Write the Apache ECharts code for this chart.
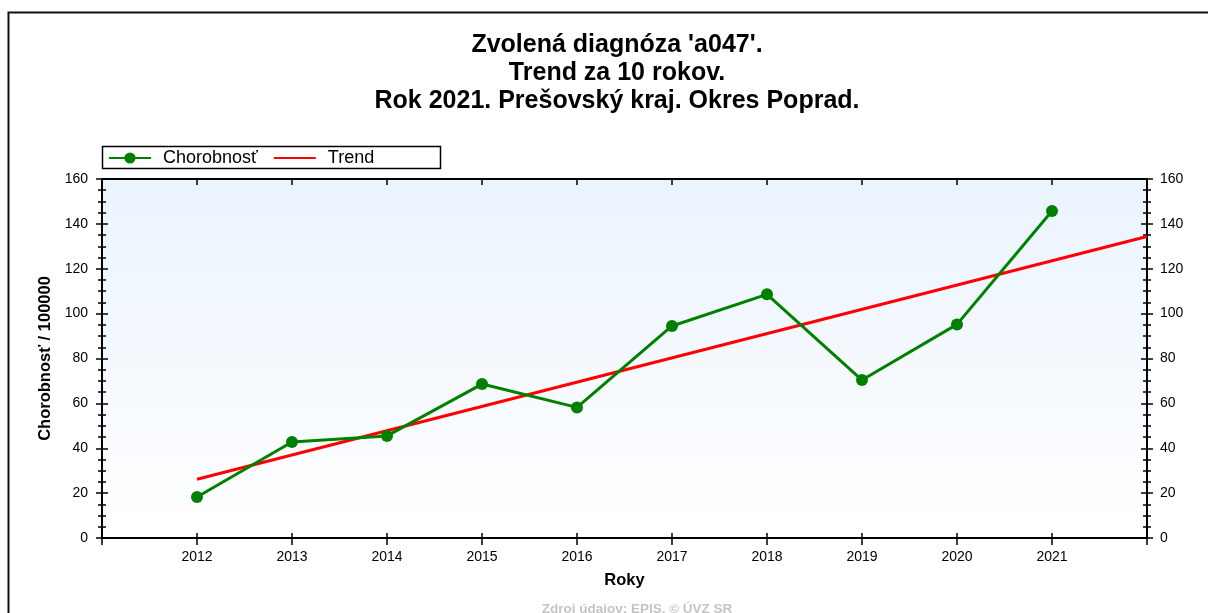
<!DOCTYPE html>
<html>
<head>
<meta charset="utf-8">
<script src="https://cdn.jsdelivr.net/npm/echarts@6/dist/echarts.min.js"></script>
<style>
html,body{margin:0;padding:0;background:#fff;}
#chart{width:1208px;height:613px;}
</style>
</head>
<body>
<div id="chart"></div>
<script>
const titleLines = ["Zvolená diagnóza 'a047'.", "Trend za 10 rokov.", "Rok 2021. Prešovský kraj. Okres Poprad."];
const years = [2012, 2013, 2014, 2015, 2016, 2017, 2018, 2019, 2020, 2021];
const chorobnost = [18.3, 42.8, 45.5, 68.6, 58.2, 94.5, 108.6, 70.4, 95.2, 145.7];
const trendYears = [2012, 2022];
const trendValues = [26.2, 134.4];
const seriesNames = ['Chorobnosť', 'Trend'];
const yAxisName = 'Chorobnosť / 100000';
const xAxisName = 'Roky';
const sourceText = 'Zdroj údajov: EPIS. © ÚVZ SR';

const FONT = "'Liberation Sans', Arial, sans-serif";
const chart = echarts.init(document.getElementById('chart'), null, {renderer: 'canvas'});

const yearLabel = v => (years.indexOf(v) >= 0 ? String(v) : '');
const axisLine = {show: true, onZero: false, lineStyle: {color: '#000', width: 2}};

const yBase = {
  type: 'value', min: 0, max: 160, interval: 20,
  splitLine: {show: false},
  axisLine: axisLine,
  minorTick: {show: true, splitNumber: 4, length: 4, lineStyle: {color: '#000', width: 1.5}},
  axisTick: {show: true, length: 6, lineStyle: {color: '#000', width: 1.5}}
};

const option = {
  backgroundColor: '#fff',
  animation: false,
  textStyle: {fontFamily: FONT},
  title: {
    text: titleLines.join('\n'),
    left: 612, top: 26, textAlign: 'center',
    textStyle: {fontFamily: FONT, fontSize: 25, fontWeight: 'bold', color: '#000', lineHeight: 28}
  },
  legend: {
    left: 103, top: 144,
    itemWidth: 42, itemHeight: 14, itemGap: 15,
    data: [
      {name: seriesNames[0]},
      {name: seriesNames[1], itemStyle: {opacity: 0}}
    ],
    textStyle: {fontFamily: FONT, fontSize: 18, color: '#000', padding: [0, 0, 0, 7]}
  },
  grid: {
    left: 102, right: 61, top: 179, bottom: 75,
    show: true, borderWidth: 0,
    backgroundColor: new echarts.graphic.LinearGradient(0, 0, 0, 1, [
      {offset: 0, color: '#eaf3fd'},
      {offset: 1, color: '#ffffff'}
    ])
  },
  xAxis: [
    {
      type: 'value', min: 2011, max: 2022, interval: 1, position: 'bottom',
      name: xAxisName, nameLocation: 'middle', nameGap: 34,
      nameTextStyle: {fontFamily: FONT, fontSize: 16.5, fontWeight: 'bold', color: '#000'},
      splitLine: {show: false},
      axisLine: axisLine,
      axisTick: {show: true, length: 7, lineStyle: {color: '#000', width: 1.5}},
      axisLabel: {formatter: yearLabel, fontFamily: FONT, fontSize: 14, color: '#000', margin: 12}
    },
    {
      type: 'value', min: 2011, max: 2022, interval: 1, position: 'bottom',
      splitLine: {show: false},
      axisLine: axisLine,
      axisTick: {show: true, inside: true, length: 5, lineStyle: {color: '#000', width: 1.5}},
      axisLabel: {show: false}
    },
    {
      type: 'value', min: 2011, max: 2022, interval: 1, position: 'top',
      splitLine: {show: false},
      axisLine: axisLine,
      axisTick: {show: true, inside: true, length: 6, lineStyle: {color: '#000', width: 1.5}},
      axisLabel: {show: false}
    }
  ],
  yAxis: [
    Object.assign({}, yBase, {
      position: 'left',
      name: yAxisName, nameLocation: 'middle', nameGap: 48,
      nameTextStyle: {fontFamily: FONT, fontSize: 16.5, fontWeight: 'bold', color: '#000'},
      axisLabel: {fontFamily: FONT, fontSize: 14, color: '#000', margin: 14}
    }),
    Object.assign({}, yBase, {
      position: 'left',
      axisTick: Object.assign({}, yBase.axisTick, {inside: true}),
      axisLabel: {show: false}
    }),
    Object.assign({}, yBase, {
      position: 'right',
      axisLabel: {fontFamily: FONT, fontSize: 14, color: '#000', margin: 13}
    }),
    Object.assign({}, yBase, {
      position: 'right',
      axisTick: Object.assign({}, yBase.axisTick, {inside: true}),
      axisLabel: {show: false}
    })
  ],
  series: [
    {
      name: seriesNames[0], type: 'line',
      data: years.map((y, i) => [y, chorobnost[i]]),
      symbol: 'circle', symbolSize: 12,
      itemStyle: {color: '#008000'},
      lineStyle: {color: '#008000', width: 3},
      z: 3
    },
    {
      name: seriesNames[1], type: 'line',
      data: trendYears.map((y, i) => [y, trendValues[i]]),
      symbol: 'none',
      itemStyle: {color: '#ff0000'},
      lineStyle: {color: '#ff0000', width: 3},
      z: 2
    }
  ],
  graphic: [
    {
      type: 'rect', left: 6, top: 10, z: -1, silent: true,
      shape: {width: 1220, height: 640},
      style: {fill: null, stroke: '#111', lineWidth: 2}
    },
    {
      type: 'rect', left: 100, top: 144, z: 1, silent: true,
      shape: {width: 338, height: 22},
      style: {fill: null, stroke: '#000', lineWidth: 1.5}
    },
    {
      type: 'text', x: 637, y: 602, silent: true,
      style: {text: sourceText, fill: '#c4c4c4', font: "bold 13.5px " + FONT, textAlign: 'center'}
    }
  ]
};
chart.setOption(option);
</script>
</body>
</html>
